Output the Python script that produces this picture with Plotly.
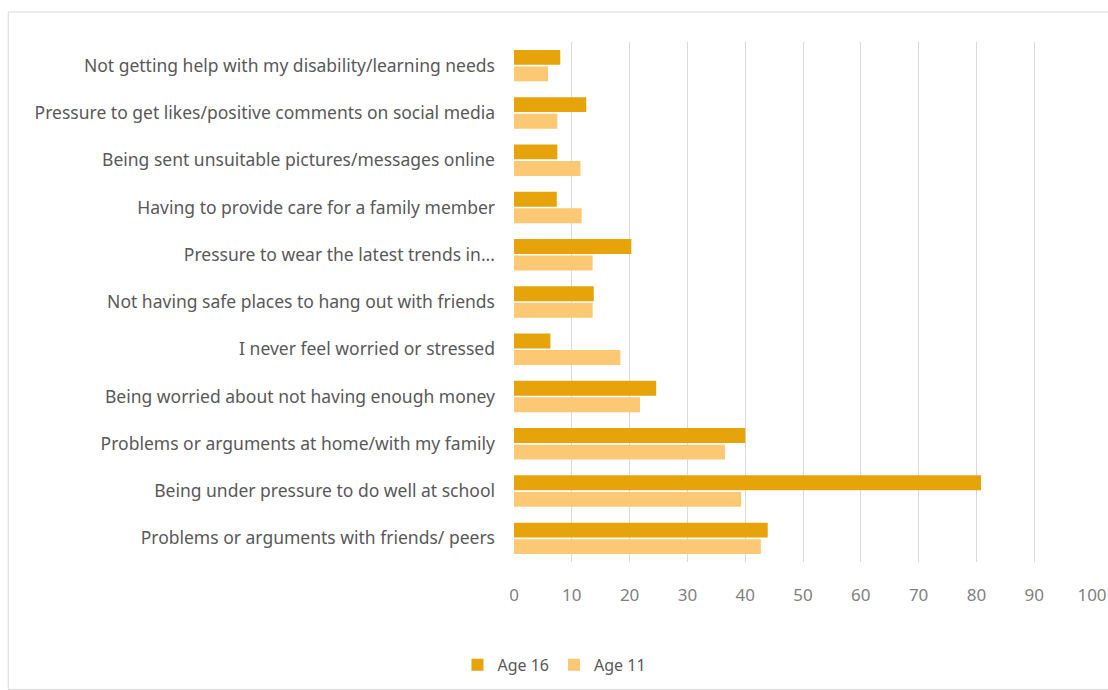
import plotly.graph_objects as go

categories = [
    "Not getting help with my disability/learning needs",
    "Pressure to get likes/positive comments on social media",
    "Being sent unsuitable pictures/messages online",
    "Having to provide care for a family member",
    "Pressure to wear the latest trends in...",
    "Not having safe places to hang out with friends",
    "I never feel worried or stressed",
    "Being worried about not having enough money",
    "Problems or arguments at home/with my family",
    "Being under pressure to do well at school",
    "Problems or arguments with friends/ peers",
]
age16 = [8.0, 12.5, 7.5, 7.4, 20.3, 13.8, 6.3, 24.6, 40.0, 80.8, 43.9]
age11 = [5.9, 7.5, 11.5, 11.7, 13.6, 13.6, 18.4, 21.8, 36.5, 39.3, 42.7]
x_ticks = [0, 10, 20, 30, 40, 50, 60, 70, 80, 90, 100]

FONT = "Noto Sans"
fig = go.Figure()
fig.add_trace(go.Bar(name="Age 16", y=categories, x=age16, orientation="h",
                     marker=dict(color="#E6A40A", line=dict(width=0))))
fig.add_trace(go.Bar(name="Age 11", y=categories, x=age11, orientation="h",
                     marker=dict(color="#FCC873", line=dict(width=0))))

fig.update_layout(
    width=1108, height=690,
    paper_bgcolor="white", plot_bgcolor="white",
    margin=dict(l=514, r=16, t=42, b=128, autoexpand=False),
    barmode="group", bargap=0.3, bargroupgap=0.1,
    font=dict(family=FONT, color="#595959"),
    showlegend=True,
    legend=dict(orientation="h", x=0.07, y=-0.165, xanchor="center", yanchor="top",
                font=dict(size=16, color="#595959"), traceorder="normal",
                itemwidth=30, tracegroupgap=0),
    xaxis=dict(range=[0, 100], tickvals=x_ticks, showgrid=True, gridcolor="#D9D9D9",
               gridwidth=1, zeroline=False, showline=False, automargin=False,
               tickfont=dict(size=17, color="#7F7F7F"), ticks="", ticklabelstandoff=21),
    yaxis=dict(autorange="reversed", showgrid=False, showline=False, ticks="",
               automargin=False,
               tickfont=dict(size=17.5, color="#595959"), ticklabelstandoff=18),
    shapes=[dict(type="rect", xref="paper", yref="paper",
                 x0=-0.875, x1=1.03, y0=-0.245, y1=1.0577,
                 line=dict(color="#D9D9D9", width=1), fillcolor="rgba(0,0,0,0)",
                 layer="below")],
)
fig.write_html("out.html", config={"displayModeBar": False},
               post_script="document.body.style.margin='0';document.body.style.overflow='hidden';")
